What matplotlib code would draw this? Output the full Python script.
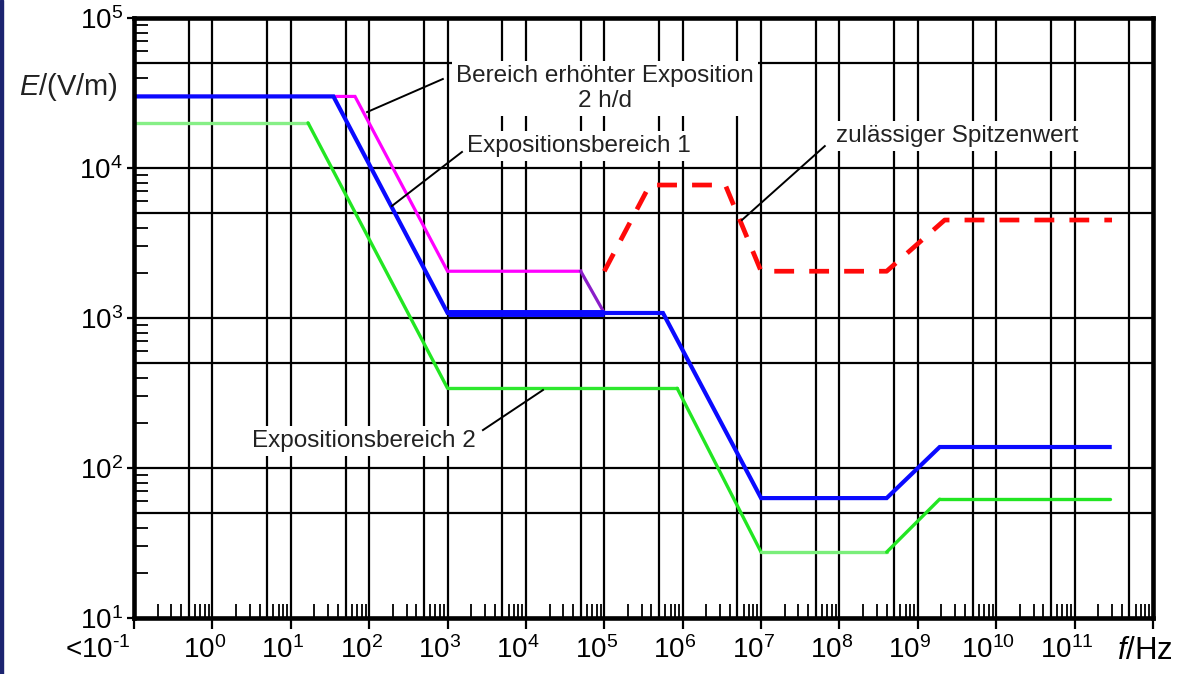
import numpy as np
import matplotlib
matplotlib.use("Agg")
import matplotlib.pyplot as plt
from matplotlib.ticker import FixedLocator, FixedFormatter, LogLocator, NullFormatter
from matplotlib.patches import Rectangle
from matplotlib.transforms import ScaledTranslation

plt.rcParams['font.family'] = ['Liberation Sans', 'DejaVu Sans']
plt.rcParams['mathtext.fontset'] = 'custom'
plt.rcParams['mathtext.rm'] = 'Liberation Sans'
plt.rcParams['mathtext.it'] = 'Liberation Sans:italic'
plt.rcParams['mathtext.default'] = 'regular'

# ---------------- data ----------------
# Expositionsbereich 1 (blue)
blue_f = [1e-1, 35, 1e3, 5.6e5, 1e7, 4e8, 1.9e9, 2.8e11]
blue_E = [3e4, 3e4, 1080, 1080, 63, 63, 138, 138]
blue_thick_f = [1e3, 1e5]
blue_thick_E = [1080, 1080]

# Bereich erhöhter Exposition 2 h/d (magenta)
mag_f = [1e-1, 66, 1e3, 5e4, 1e5]
mag_E = [3e4, 3e4, 2050, 2050, 1080]

# Expositionsbereich 2 (green)
green_f = [1e-1, 16.6, 1e3, 8.5e5, 1e7, 4e8, 1.9e9, 2.8e11]
green_E = [2e4, 2e4, 340, 340, 27.5, 27.5, 62, 62]

# zulässiger Spitzenwert (red dashed)
red_f = [1e5, 3.8e5, 3.5e6, 1e7, 4e8, 2.2e9, 3e11]
red_E = [2050, 7700, 7700, 2050, 2050, 4500, 4500]

x_labels = [r'<10$^{\text{-}1}$', '10$^{0}$', '10$^{1}$', '10$^{2}$', '10$^{3}$', '10$^{4}$',
            '10$^{5}$', '10$^{6}$', '10$^{7}$', '10$^{8}$', '10$^{9}$', '10$^{10}$',
            '10$^{11}$', r'$\mathit{f}$/Hz']
y_labels = ['10$^{1}$', '10$^{2}$', '10$^{3}$', '10$^{4}$', '10$^{5}$']

# ---------------- figure ----------------
W, H = 1188, 674
fig = plt.figure(figsize=(W / 100, H / 100), dpi=100)
L, R, T, B = 134, 1153, 18, 618
ax = fig.add_axes([L / W, 1 - B / H, (R - L) / W, (B - T) / H])
ax.set_xscale('log')
ax.set_yscale('log')
ax.set_xlim(1e-1, 1e12)
ax.set_ylim(10, 1e5)

xmaj = 10.0 ** np.arange(-1, 13)
ymaj = 10.0 ** np.arange(1, 6)
ax.xaxis.set_major_locator(FixedLocator(xmaj))
ax.xaxis.set_major_formatter(FixedFormatter(x_labels))
ax.yaxis.set_major_locator(FixedLocator(ymaj))
ax.yaxis.set_major_formatter(FixedFormatter(y_labels))
ax.xaxis.set_minor_locator(LogLocator(base=10, subs=(2, 3, 4, 6, 7, 8, 9), numticks=200))
ax.yaxis.set_minor_locator(LogLocator(base=10, subs=(2, 3, 4, 6, 7, 8, 9), numticks=200))
ax.xaxis.set_minor_formatter(NullFormatter())
ax.yaxis.set_minor_formatter(NullFormatter())

ax.tick_params(axis='x', which='major', direction='out', length=8, width=1.6,
               labelsize=20, pad=5, colors='black')
ax.tick_params(axis='y', which='major', direction='out', length=5, width=1.6,
               labelsize=20, pad=3, colors='black')
ax.tick_params(which='minor', direction='in', length=10, width=1.3)

ax.grid(True, which='major', color='black', lw=1.6)
for v in 5 * 10.0 ** np.arange(-1, 12):
    ax.axvline(v, color='black', lw=1.6, zorder=1.5)
for v in 5 * 10.0 ** np.arange(1, 5):
    ax.axhline(v, color='black', lw=1.6, zorder=1.5)

for s in ax.spines.values():
    s.set_linewidth(3.3)
    s.set_zorder(5)

# shift x tick labels slightly left as in the original
xtl = ax.xaxis.get_majorticklabels()
for i, lbl in enumerate(xtl):
    dx = -36 if i == 0 else -8
    lbl.set_transform(lbl.get_transform() + ScaledTranslation(dx / 100, 0, fig.dpi_scale_trans))
xtl[-1].set_fontsize(22.5)

# ---------------- curves ----------------
ax.plot(mag_f[:4], mag_E[:4], color='#ff00ff', lw=2.3, zorder=3, solid_joinstyle='miter')
ax.plot(mag_f[3:], mag_E[3:], color='#8a1ec8', lw=2.3, zorder=3)

green_cols = ['#86ef86', '#22e622', '#2ee82e', '#22e622', '#7aee7a', '#22e622', '#22e622']
for i in range(len(green_f) - 1):
    ax.plot(green_f[i:i + 2], green_E[i:i + 2], color=green_cols[i], lw=2.4,
            zorder=3, solid_capstyle='round')

ax.plot(blue_f, blue_E, color='#0a0aff', lw=3.0, zorder=4, solid_joinstyle='miter')
ax.plot(blue_thick_f, blue_thick_E, color='#0a0aff', lw=5.0, zorder=4, solid_capstyle='butt')

ax.plot(red_f, red_E, color='#ff0a0a', lw=3.4, zorder=4, dashes=(4.2, 3.2))

# ---------------- annotations ----------------
tkw = dict(fontsize=17.5, color='#222222', ha='center', va='center', zorder=6,
           bbox=dict(facecolor='white', edgecolor='none', pad=3))
lkw = dict(color='black', lw=1.4, zorder=6)

ax.text(1.02e5, 3.4e4, 'Bereich erhöhter Exposition\n2 h/d', linespacing=1.15, **tkw)
ax.plot([871, 94], [39200, 23600], **lkw)

ax.text(4.7e4, 1.4e4, 'Expositionsbereich 1', **tkw)
ax.plot([1528, 195], [12790, 5580], **lkw)

ax.text(3.14e9, 1.63e4, 'zulässiger Spitzenwert', **tkw)
ax.plot([6.5e7, 5.7e6], [14000, 4500], **lkw)

ax.text(86, 151, 'Expositionsbereich 2', **tkw)
ax.plot([2830, 16500], [179, 331], **lkw)

# axis unit label
fig.text(118 / W, 1 - 87 / H, r'$\mathit{E}$/(V/m)', fontsize=21, ha='right', va='center',
         color='#222222')

# left navy border strip
fig.patches.append(Rectangle((0, 0), 3 / W, 1, transform=fig.transFigure,
                             color='#1c2470', zorder=10))

fig.savefig('out.png', dpi=100, facecolor='white')
